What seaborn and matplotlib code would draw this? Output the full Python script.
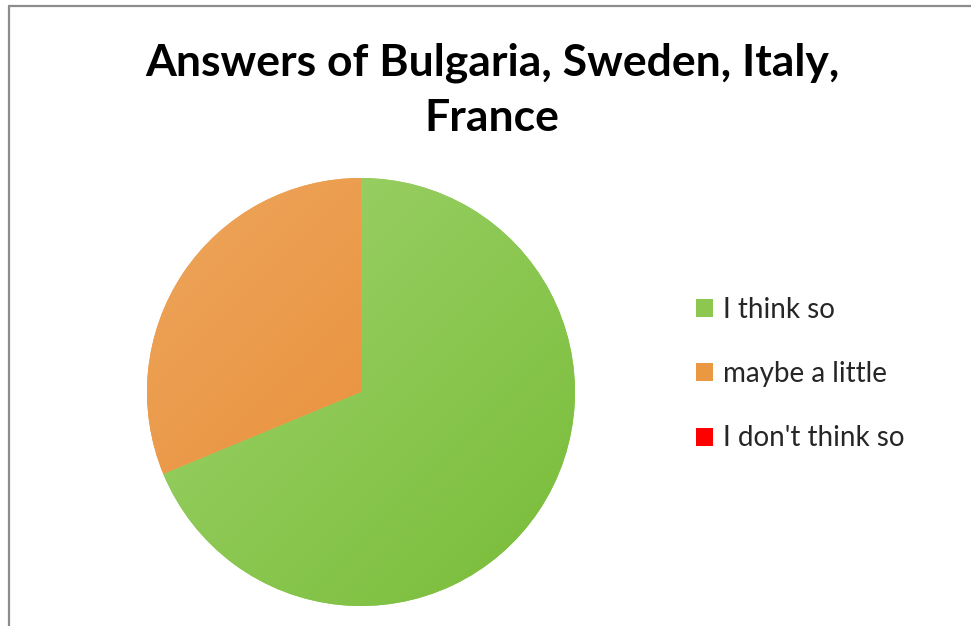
import numpy as np
import matplotlib
matplotlib.use("Agg")
import matplotlib.pyplot as plt
import seaborn as sns
from matplotlib.patches import Patch
from matplotlib.lines import Line2D

sns.set_style("white")
plt.rcParams['font.family'] = ['Lato', 'DejaVu Sans']

answers = ["I think so", "maybe a little", "I don't think so"]
counts = [11, 5, 0]
title = "Answers of Bulgaria, Sweden, Italy,\nFrance"

# light / dark ends of each slice's gradient
light_cols = ["#a0d46e", "#eea65c", "#ff0000"]
dark_cols = ["#78bc38", "#e6852a", "#ff0000"]
mid_cols = ["#8cc850", "#eb9843", "#ff0000"]

W, H = 971, 626
fig = plt.figure(figsize=(W / 100, H / 100), dpi=100)

cx, cy, r = 361, 392, 214
pad = 220
ax = fig.add_axes([(cx - pad) / W, (H - cy - pad) / H, 2 * pad / W, 2 * pad / H])
lim = pad / r

wedges, _ = ax.pie(counts, startangle=90, counterclock=False,
                   colors=mid_cols, radius=1, wedgeprops=dict(linewidth=0))

# diagonal gradient clipped to each wedge
yy, xx = np.mgrid[1:-1:200j, -1:1:200j]
t = np.clip((xx - yy) / 4 + 0.5, 0, 1)
for w, lc, dc in zip(wedges, light_cols, dark_cols):
    if w.theta2 - w.theta1 == 0:
        continue
    c1 = np.array(matplotlib.colors.to_rgb(lc))
    c2 = np.array(matplotlib.colors.to_rgb(dc))
    img = c1[None, None, :] * (1 - t[..., None]) + c2[None, None, :] * t[..., None]
    im = ax.imshow(img, extent=(-1, 1, -1, 1), zorder=2, interpolation="bilinear")
    im.set_clip_path(w)
ax.set_xlim(-lim, lim)
ax.set_ylim(-lim, lim)
ax.set_aspect("auto")
ax.axis("off")

fig.text(492 / W, 1 - 90 / H, title, ha="center", va="center",
         fontsize=32, fontweight="bold", color="#000000", linespacing=1.45)

handles = [Patch(facecolor=c, edgecolor="none") for c in mid_cols]
fig.legend(handles, answers, loc="center left",
           bbox_to_anchor=(671 / W, 1 - 374 / H), frameon=False,
           fontsize=20, labelspacing=1.38, handlelength=0.62, handleheight=0.62,
           handletextpad=0.36)

# chart frame (partly visible)
fig.add_artist(Line2D([9 / W, 9 / W], [0, 1 - 6 / H], color="#8c8c8c", lw=1.6,
                      transform=fig.transFigure))
fig.add_artist(Line2D([9 / W, 1], [1 - 6 / H, 1 - 6 / H], color="#8c8c8c", lw=1.6,
                      transform=fig.transFigure))

fig.savefig("out.png", dpi=100)
